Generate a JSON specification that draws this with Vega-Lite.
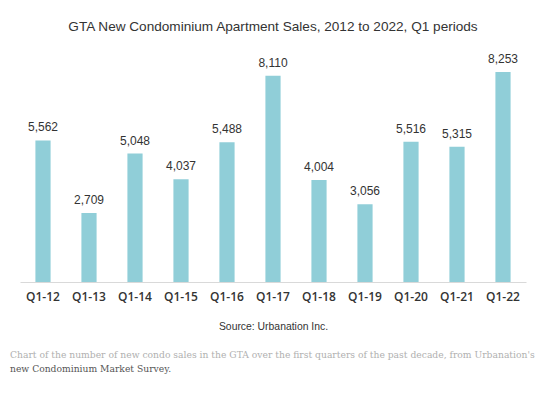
{
  "$schema": "https://vega.github.io/schema/vega-lite/v6.json",
  "background": "white",
  "padding": {"left": 10, "top": 20, "right": 5, "bottom": 5},
  "config": {
    "view": {"stroke": null},
    "font": "Liberation Sans"
  },
  "title": {
    "text": "Chart of the number of new condo sales in the GTA over the first quarters of the past decade, from Urbanation's",
    "subtitle": "new Condominium Market Survey.",
    "orient": "bottom",
    "anchor": "start",
    "frame": "bounds",
    "dx": -10,
    "offset": 20,
    "font": "DejaVu Serif",
    "fontSize": 9.2,
    "fontWeight": "normal",
    "color": "#b0b0b0",
    "subtitleFont": "DejaVu Serif",
    "subtitleFontSize": 9.2,
    "subtitleColor": "#555555",
    "subtitlePadding": 4
  },
  "vconcat": [
    {
      "width": 506,
      "height": 229,
      "title": {
        "text": "GTA New Condominium Apartment Sales, 2012 to 2022, Q1 periods",
        "anchor": "middle",
        "fontSize": 13.6,
        "fontWeight": "normal",
        "color": "#333333",
        "offset": 19
      },
      "data": {
        "values": [
          {"period": "Q1-12", "sales": 5562},
          {"period": "Q1-13", "sales": 2709},
          {"period": "Q1-14", "sales": 5048},
          {"period": "Q1-15", "sales": 4037},
          {"period": "Q1-16", "sales": 5488},
          {"period": "Q1-17", "sales": 8110},
          {"period": "Q1-18", "sales": 4004},
          {"period": "Q1-19", "sales": 3056},
          {"period": "Q1-20", "sales": 5516},
          {"period": "Q1-21", "sales": 5315},
          {"period": "Q1-22", "sales": 8253}
        ]
      },
      "encoding": {
        "x": {
          "field": "period",
          "type": "nominal",
          "sort": null,
          "scale": {"paddingInner": 0.67, "paddingOuter": 0.335},
          "axis": {
            "title": "Source: Urbanation Inc.",
            "titleFontSize": 10.4,
            "titleFontWeight": "normal",
            "titleColor": "#333333",
            "titlePadding": 19,
            "labelAngle": 0,
            "labelFont": "Open Sans",
            "labelFontWeight": 600,
            "labelFontSize": 12,
            "labelColor": "#333333",
            "labelPadding": 9,
            "ticks": false,
            "domainColor": "#d9d9d9",
            "domainWidth": 1,
            "grid": false
          }
        },
        "y": {
          "field": "sales",
          "type": "quantitative",
          "scale": {"domain": [0, 9000], "nice": false},
          "axis": null
        }
      },
      "layer": [
        {"mark": {"type": "bar", "color": "#90ced8"}},
        {
          "mark": {"type": "text", "baseline": "bottom", "dy": -6, "fontSize": 12, "color": "#333333"},
          "encoding": {"text": {"field": "sales", "type": "quantitative", "format": ","}}
        }
      ]
    }
  ]
}
